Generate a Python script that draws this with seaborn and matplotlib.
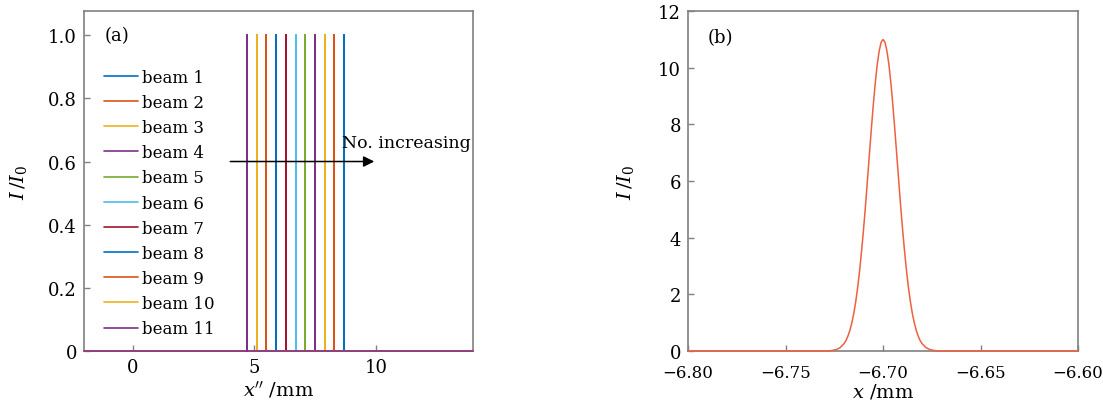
import numpy as np
import pandas as pd
import matplotlib.pyplot as plt
import seaborn as sns

# (a) beam positions along x'' (mm), beam 1 ... beam 11
beam_names = ["beam %d" % i for i in range(1, 12)]
beam_pos = [8.7, 8.3, 7.9, 7.5, 7.1, 6.7, 6.3, 5.9, 5.5, 5.1, 4.7]
beam_peak = [1.0] * 11
beam_colors = ["#0072BD", "#D95319", "#EDB120", "#7E2F8E", "#77AC30", "#4DBEEE",
               "#A2142F", "#0072BD", "#D95319", "#EDB120", "#7E2F8E"]
xa_min, xa_max = -2, 14

# (b) focused intensity profile
xb = [-6.800, -6.740, -6.728, -6.726, -6.724, -6.722, -6.720, -6.719, -6.718, -6.717,
      -6.716, -6.715, -6.714, -6.713, -6.712, -6.711, -6.710, -6.709, -6.708, -6.707,
      -6.706, -6.705, -6.704, -6.703, -6.702, -6.701, -6.700, -6.699, -6.698, -6.697,
      -6.696, -6.695, -6.694, -6.693, -6.692, -6.691, -6.690, -6.689, -6.688, -6.687,
      -6.686, -6.685, -6.684, -6.683, -6.682, -6.681, -6.680, -6.678, -6.676, -6.674,
      -6.672, -6.660, -6.600]
yb = [0.0, 0.0, 0.0, 0.02, 0.05, 0.12, 0.26, 0.37, 0.53, 0.73,
      1.00, 1.33, 1.75, 2.25, 2.85, 3.54, 4.30, 5.14, 6.04, 6.95,
      7.85, 8.70, 9.47, 10.11, 10.59, 10.90, 11.0, 10.90, 10.59, 10.11,
      9.47, 8.70, 7.85, 6.95, 6.04, 5.14, 4.30, 3.54, 2.85, 2.25,
      1.75, 1.33, 1.00, 0.73, 0.53, 0.37, 0.26, 0.12, 0.05, 0.02,
      0.0, 0.0, 0.0]

rows = []
for name, p, h in zip(beam_names, beam_pos, beam_peak):
    for x, y in zip([xa_min, p, p, p, xa_max], [0, 0, h, 0, 0]):
        rows.append((name, x, y))
df_a = pd.DataFrame(rows, columns=["beam", "x", "I"])
df_b = pd.DataFrame({"x": xb, "I": yb})

sns.set_theme(style="ticks")
plt.rcParams["font.family"] = ["DejaVu Serif"]
plt.rcParams["mathtext.fontset"] = "dejavuserif"
plt.rcParams["xtick.direction"] = "in"
plt.rcParams["ytick.direction"] = "in"
plt.rcParams["text.color"] = "black"
plt.rcParams["axes.labelcolor"] = "black"
plt.rcParams["xtick.labelcolor"] = "black"
plt.rcParams["ytick.labelcolor"] = "black"

fig = plt.figure(figsize=(11.03, 4.06), dpi=100)
ax1 = fig.add_axes([0.0762, 0.133, 0.3527, 0.837])
ax2 = fig.add_axes([0.6238, 0.133, 0.3536, 0.837])

sns.lineplot(data=df_a, x="x", y="I", hue="beam", hue_order=beam_names,
             palette=beam_colors, estimator=None, sort=False, lw=1.2, ax=ax1)
for ln in ax1.get_lines():
    ln.set_clip_on(False)
ax1.set_xlim(xa_min, xa_max)
ax1.set_ylim(0, 1.076)
ax1.set_xticks([0, 5, 10])
ax1.set_yticks([0, 0.2, 0.4, 0.6, 0.8, 1.0])
ax1.set_yticklabels(["0", "0.2", "0.4", "0.6", "0.8", "1.0"])
ax1.annotate("", xy=(10.05, 0.6), xytext=(3.9, 0.6),
             arrowprops=dict(arrowstyle="-|>", color="black", lw=1.1,
                             mutation_scale=16))
ax1.text(8.6, 0.66, "No. increasing", fontsize=12.5, ha="left", va="center")
ax1.text(-1.15, 1.0, "(a)", fontsize=13, ha="left", va="center")
ax1.set_xlabel(r"$x''$ /mm", fontsize=14, labelpad=2)
ax1.set_ylabel(r"$I\,/I_0$", fontsize=14, labelpad=14)
ax1.legend(loc="upper left", bbox_to_anchor=(0.035, 0.85), frameon=False,
           fontsize=12, handlelength=2.0, handletextpad=0.25, labelspacing=0.49,
           borderaxespad=0)

sns.lineplot(data=df_b, x="x", y="I", color="#ee6040", lw=1.1, estimator=None,
             sort=False, ax=ax2)
for ln in ax2.get_lines():
    ln.set_clip_on(False)
ax2.set_xlim(-6.80, -6.60)
ax2.set_ylim(0, 12)
ax2.set_xticks([-6.80, -6.75, -6.70, -6.65, -6.60])
ax2.set_xticklabels(["\u22126.80", "\u22126.75", "\u22126.70", "\u22126.65", "\u22126.60"],
                    fontsize=12)
ax2.set_yticks([0, 2, 4, 6, 8, 10, 12])
ax2.text(-6.79, 11.1, "(b)", fontsize=13, ha="left", va="center")
ax2.set_xlabel(r"$x$ /mm", fontsize=14, labelpad=1)
ax2.set_ylabel(r"$I\,/I_0$", fontsize=14, labelpad=16)

for ax in (ax1, ax2):
    for s in ax.spines.values():
        s.set_visible(True)
        s.set_color("#808080")
        s.set_linewidth(1.2)
        s.set_zorder(0)
    ax.tick_params(length=4, color="#808080", width=1)
    ax.tick_params(axis="y", labelsize=13, pad=5)
ax1.tick_params(axis="x", labelsize=13, pad=5)
ax2.tick_params(axis="x", pad=9)

fig.savefig("out.png", dpi=100)
